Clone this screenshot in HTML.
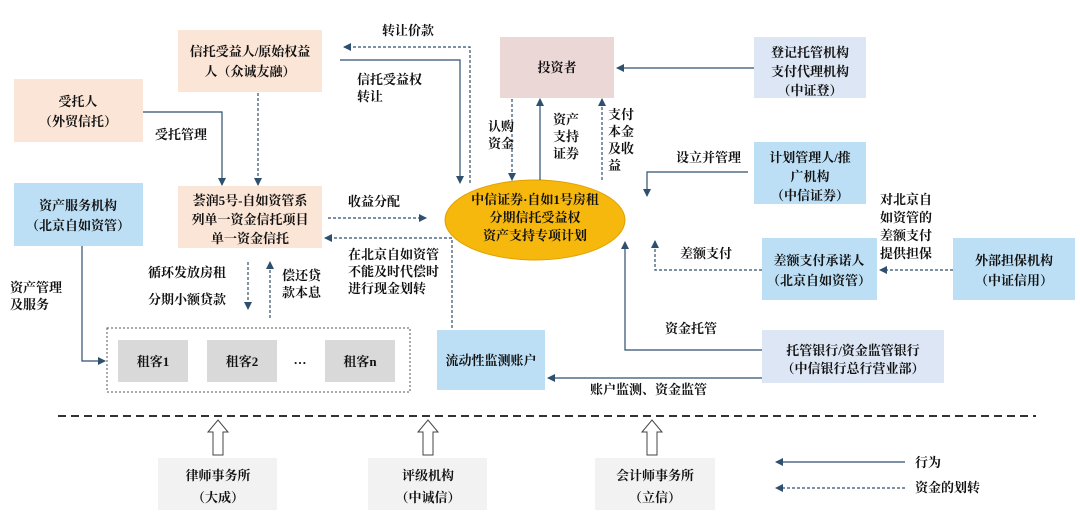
<!DOCTYPE html>
<html><head><meta charset="utf-8"><style>
body{margin:0;background:#fff;}
svg{display:block;font-family:"Liberation Serif","Noto Serif CJK SC","Noto Sans CJK SC",serif;}
text{font-size:13px;fill:#111;font-weight:bold;}
</style></head><body>
<svg width="1080" height="523" viewBox="0 0 1080 523" xmlns="http://www.w3.org/2000/svg">
<defs>
<marker id="a" markerWidth="8" markerHeight="8" refX="7" refY="4" orient="auto" markerUnits="userSpaceOnUse"><path d="M0,0 L8,4 L0,8z" fill="#2f4f6f"/></marker>
</defs>
<g stroke="none">
<rect x="178" y="30" width="144" height="62" fill="#fbe5d6"/>
<rect x="14" y="79" width="129" height="63" fill="#fbe5d6"/>
<rect x="14" y="183" width="129" height="63" fill="#bcdff5"/>
<rect x="178" y="186" width="144" height="62" fill="#fbe5d6"/>
<rect x="500" y="37" width="114" height="61" fill="#ecd7d7"/>
<rect x="754" y="37" width="112" height="61" fill="#dde6f4"/>
<rect x="754" y="142" width="112" height="62" fill="#bcdff5"/>
<rect x="762" y="238" width="115" height="62" fill="#bcdff5"/>
<rect x="953" y="238" width="122" height="62" fill="#bcdff5"/>
<rect x="762" y="330" width="182" height="53" fill="#dde6f4"/>
<rect x="437" y="330" width="108" height="60" fill="#bcdff5"/>
<rect x="118" y="340" width="70" height="42" fill="#d9d9d9"/>
<rect x="207" y="340" width="70" height="42" fill="#d9d9d9"/>
<rect x="325" y="340" width="70" height="42" fill="#d9d9d9"/>
<rect x="158" y="458" width="119" height="52" fill="#f2f2f2"/>
<rect x="368" y="458" width="119" height="52" fill="#f2f2f2"/>
<rect x="595" y="458" width="120" height="52" fill="#f2f2f2"/>
</g>
<ellipse cx="535" cy="220" rx="90" ry="40" fill="#f6b80c" stroke="#e0a000"/>
<rect x="107" y="328" width="303" height="64" fill="none" stroke="#555" stroke-dasharray="2,2"/>
<g fill="none" stroke="#2f4f6f" stroke-width="1.2">
<polyline points="143,112 222,112 222,185" marker-end="url(#a)"/>
<polyline points="258,93 258,185" stroke-dasharray="3,2" marker-end="url(#a)"/>
<polyline points="340,60 460,60 460,183" marker-end="url(#a)"/>
<polyline points="470,183 470,47 344,47" stroke-dasharray="3,2" marker-end="url(#a)"/>
<polyline points="328,218 426,218" stroke-dasharray="3,2" marker-end="url(#a)"/>
<polyline points="452,328 452,238 325,238" stroke-dasharray="3,2" marker-end="url(#a)"/>
<polyline points="82,246 82,361 105,361" marker-end="url(#a)"/>
<polyline points="248,262 248,309" stroke-dasharray="3,2" marker-end="url(#a)"/>
<polyline points="270,318 270,262" stroke-dasharray="3,2" marker-end="url(#a)"/>
<polyline points="512,99 512,180" stroke-dasharray="3,2" marker-end="url(#a)"/>
<polyline points="540,180 540,99" marker-end="url(#a)"/>
<polyline points="602,180 602,99" stroke-dasharray="3,2" marker-end="url(#a)"/>
<polyline points="754,68 617,68" marker-end="url(#a)"/>
<polyline points="748,172 647,172 647,196" marker-end="url(#a)"/>
<polyline points="762,270 655,270 655,241" stroke-dasharray="3,2" marker-end="url(#a)"/>
<polyline points="953,270 880,270" stroke-dasharray="3,2" marker-end="url(#a)"/>
<polyline points="762,350 625,350 625,242" marker-end="url(#a)"/>
<polyline points="762,378 548,378" marker-end="url(#a)"/>
<polyline points="905,462 776,462" marker-end="url(#a)"/>
<polyline points="905,488 776,488" stroke-dasharray="3,2" marker-end="url(#a)"/>
</g>
<line x1="58" y1="416" x2="1036" y2="416" stroke="#333" stroke-width="2" stroke-dasharray="8,5"/>
<g fill="#fff" stroke="#444" stroke-width="1">
<path d="M213,455 L213,432 L208,432 L218,420 L228,432 L223,432 L223,455z"/>
<path d="M423,455 L423,432 L418,432 L428,420 L438,432 L433,432 L433,455z"/>
<path d="M647,455 L647,432 L642,432 L652,420 L662,432 L657,432 L657,455z"/>
</g>
<g text-anchor="middle">
<text x="250" y="56">信托受益人/原始权益</text><text x="250" y="76">人（众诚友融）</text>
<text x="78" y="106">受托人</text><text x="78" y="126">（外贸信托）</text>
<text x="78" y="210">资产服务机构</text><text x="78" y="230">（北京自如资管）</text>
<text x="250" y="205">荟润5号-自如资管系</text><text x="250" y="224">列单一资金信托项目</text><text x="250" y="243">单一资金信托</text>
<text x="557" y="72">投资者</text>
<text x="810" y="57">登记托管机构</text><text x="810" y="76">支付代理机构</text><text x="810" y="95">（中证登）</text>
<text x="810" y="162">计划管理人/推</text><text x="810" y="181">广机构</text><text x="810" y="200">（中信证券）</text>
<text x="819" y="265">差额支付承诺人</text><text x="819" y="285">（北京自如资管）</text>
<text x="1014" y="265">外部担保机构</text><text x="1014" y="285">（中证信用）</text>
<text x="853" y="355">托管银行/资金监管银行</text><text x="853" y="373">（中信银行总行营业部）</text>
<text x="491" y="365">流动性监测账户</text>
<text x="153" y="366">租客1</text><text x="242" y="366">租客2</text><text x="300" y="364">…</text><text x="360" y="366">租客n</text>
<text x="535" y="204" fill="#222">中信证券·自如1号房租</text><text x="535" y="222">分期信托受益权</text><text x="535" y="240">资产支持专项计划</text>
<text x="218" y="480">律师事务所</text><text x="218" y="502">（大成）</text>
<text x="428" y="480">评级机构</text><text x="428" y="502">（中诚信）</text>
<text x="655" y="480">会计师事务所</text><text x="655" y="502">（立信）</text>
</g>
<g font-size="12">
<text x="382" y="35">转让价款</text>
<text x="357" y="84">信托受益权</text><text x="357" y="101">转让</text>
<text x="155" y="139">受托管理</text>
<text x="348" y="206">收益分配</text>
<text x="348" y="259">在北京自如资管</text><text x="348" y="276">不能及时代偿时</text><text x="348" y="293">进行现金划转</text>
<text x="148" y="277">循环发放房租</text><text x="148" y="304">分期小额贷款</text>
<text x="282" y="280">偿还贷</text><text x="282" y="297">款本息</text>
<text x="10" y="292">资产管理</text><text x="10" y="309">及服务</text>
<text x="488" y="131">认购</text><text x="488" y="148">资金</text>
<text x="553" y="124">资产</text><text x="553" y="141">支持</text><text x="553" y="158">证券</text>
<text x="608" y="119">支付</text><text x="608" y="136">本金</text><text x="608" y="153">及收</text><text x="608" y="170">益</text>
<text x="676" y="162">设立并管理</text>
<text x="680" y="258">差额支付</text>
<text x="880" y="204">对北京自</text><text x="880" y="222">如资管的</text><text x="880" y="240">差额支付</text><text x="880" y="258">提供担保</text>
<text x="665" y="333">资金托管</text>
<text x="590" y="394">账户监测、资金监管</text>
<text x="915" y="467">行为</text>
<text x="915" y="492">资金的划转</text>
</g>
</svg>
</body></html>
